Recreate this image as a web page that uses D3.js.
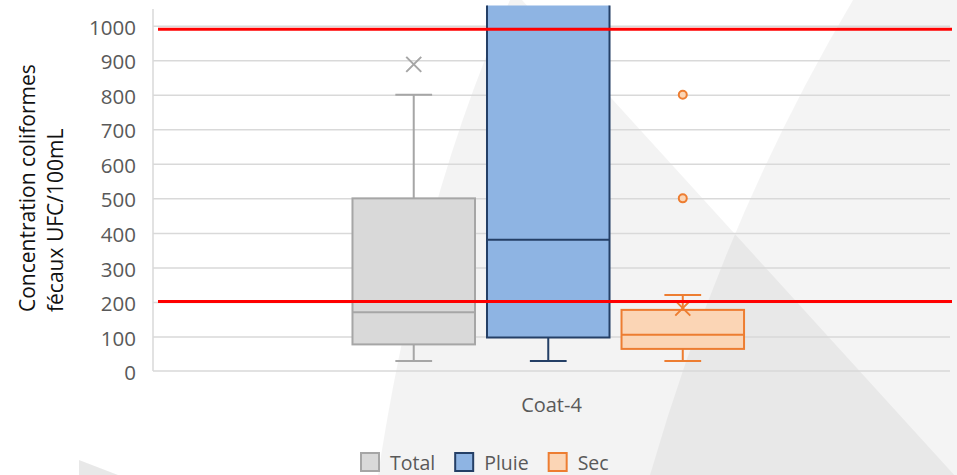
<!DOCTYPE html>
<html><head><meta charset="utf-8">
<script src="https://cdn.jsdelivr.net/npm/d3@7"></script>
<style>
html,body{margin:0;padding:0;background:#fff;}
svg{display:block;font-family:"Open Sans",sans-serif;}
</style></head>
<body>
<svg id="chart" width="957" height="475"></svg>
<script>
// ---- data ----
const categories = ["Coat-4"];
const series = ["Total", "Pluie", "Sec"];
const q1 = [77, 97, 64];
const median = [170, 380, 105];
const q3 = [500, 1100, 177];          // Pluie Q3 goes beyond the visible area
const whiskerLow = [29, 29, 29];
const whiskerHigh = [800, null, 220]; // Pluie upper whisker off-chart
const means = [888, null, 182];
const outliers = [[], [], [500, 800]];
const thresholds = [990, 201];
const yTicks = [0, 100, 200, 300, 400, 500, 600, 700, 800, 900, 1000];
const yTitle = ["Concentration coliformes", "fécaux UFC/100mL"];

const fills = ["#d9d9d9", "#8eb4e3", "#fbd5b5"];
const strokes = ["#a6a6a6", "#243f66", "#ed7d31"];

const W = 957, H = 475;
const plot = {left: 153, right: 950, top: 5, bottom: 371};
const svg = d3.select("#chart");

// ---- decorative background ----
const bg = svg.append("g");
bg.append("path").attr("d", "M853,0 L957,0 L957,475 L650,475 Q725,215 853,0 Z")
  .attr("fill", "#000").attr("fill-opacity", 0.045);
bg.append("path").attr("d", "M510,0 L522,0 L957,478 L957,475 L378,475 Q420,200 510,0 Z")
  .attr("fill", "#000").attr("fill-opacity", 0.048);
bg.append("path").attr("d", "M79,460 L118,475 L79,475 Z")
  .attr("fill", "#000").attr("fill-opacity", 0.09);

// ---- scales ----
const y = d3.scaleLinear().domain([0, 1060]).range([plot.bottom, plot.top]);
const x = d3.scaleBand().domain(categories).range([plot.left, plot.right]);
const xs = d3.scaleBand().domain(series).range([0, x.bandwidth()])
  .paddingInner(0.0892).paddingOuter(1.507).align(0.492);

// ---- gridlines ----
const grid = svg.append("g").attr("transform", `translate(${plot.left},0)`)
  .call(d3.axisLeft(y).tickValues(yTicks.filter(d => d > 0)).tickSize(-(plot.right - plot.left)).tickFormat(""));
grid.select(".domain").remove();
grid.selectAll("line").attr("stroke", "#d9d9d9").attr("stroke-width", 1.5);

// axis lines
svg.append("line").attr("x1", plot.left).attr("x2", plot.left).attr("y1", 9).attr("y2", y(0))
  .attr("stroke", "#d9d9d9").attr("stroke-width", 1.5);
svg.append("line").attr("x1", plot.left).attr("x2", plot.right).attr("y1", y(0)).attr("y2", y(0))
  .attr("stroke", "#d9d9d9").attr("stroke-width", 1.5);

// y tick labels
const yAxis = svg.append("g").attr("transform", `translate(${plot.left - 17},0)`)
  .call(d3.axisLeft(y).tickValues(yTicks).tickSize(0).tickPadding(0).tickFormat(d3.format("d")));
yAxis.select(".domain").remove();
yAxis.selectAll("text").attr("fill", "#595959").attr("font-size", 20.5)
  .attr("font-family", "Open Sans").attr("dy", "0.42em");

// y title
const title = svg.append("text").attr("transform", "translate(0,312) rotate(-90)")
  .attr("font-size", 21).attr("fill", "#111").attr("text-anchor", "start");
yTitle.forEach((t, i) => {
  title.append("tspan").attr("x", 0).attr("y", 35 + i * 28).text(t);
});

// x category label
svg.selectAll(".cat").data(categories).join("text")
  .attr("x", d => x(d) + x.bandwidth() / 2).attr("y", 412)
  .attr("text-anchor", "middle").attr("font-size", 20).attr("fill", "#595959").text(d => d);

// ---- boxes ----
const clip = svg.append("clipPath").attr("id", "pclip").append("rect")
  .attr("x", 0).attr("y", plot.top + 0.5).attr("width", W).attr("height", plot.bottom - plot.top + 20);

const gBoxes = svg.append("g").attr("clip-path", "url(#pclip)");
const cat = categories[0];
series.forEach((s, i) => {
  const bx = x(cat) + xs(s), bw = xs.bandwidth(), cx = bx + bw / 2, cap = bw * 0.3;
  const g = gBoxes.append("g").attr("stroke", strokes[i]).attr("stroke-width", 2);
  // whiskers
  g.append("line").attr("x1", cx).attr("x2", cx).attr("y1", y(q1[i])).attr("y2", y(whiskerLow[i]));
  g.append("line").attr("x1", cx - cap / 2).attr("x2", cx + cap / 2).attr("y1", y(whiskerLow[i])).attr("y2", y(whiskerLow[i]));
  if (whiskerHigh[i] != null) {
    g.append("line").attr("x1", cx).attr("x2", cx).attr("y1", y(q3[i])).attr("y2", y(whiskerHigh[i]));
    g.append("line").attr("x1", cx - cap / 2).attr("x2", cx + cap / 2).attr("y1", y(whiskerHigh[i])).attr("y2", y(whiskerHigh[i]));
  }
  // box
  g.append("rect").attr("x", bx).attr("width", bw)
    .attr("y", y(q3[i])).attr("height", y(q1[i]) - y(q3[i]))
    .attr("fill", fills[i]);
  g.append("line").attr("x1", bx).attr("x2", bx + bw).attr("y1", y(median[i])).attr("y2", y(median[i]));
  // mean
  if (means[i] != null) {
    const m = y(means[i]), r = 7.5;
    g.append("path").attr("d", `M${cx - r},${m - r}L${cx + r},${m + r}M${cx - r},${m + r}L${cx + r},${m - r}`)
      .attr("fill", "none").attr("stroke-width", 2);
  }
  // outliers
  g.selectAll(".o").data(outliers[i]).join("circle")
    .attr("cx", cx).attr("cy", d => y(d)).attr("r", 4).attr("fill", fills[i]).attr("stroke-width", 2);
});

// ---- threshold lines ----
svg.selectAll(".thr").data(thresholds).join("line")
  .attr("x1", plot.left + 5).attr("x2", plot.right + 2)
  .attr("y1", d => y(d)).attr("y2", d => y(d))
  .attr("stroke", "#ff0000").attr("stroke-width", 3);

// ---- legend ----
const leg = svg.append("g").attr("transform", "translate(360,452)");
let lx = 0;
series.forEach((s, i) => {
  leg.append("rect").attr("x", lx + 1).attr("y", 1).attr("width", 18).attr("height", 18)
    .attr("fill", fills[i]).attr("stroke", strokes[i]).attr("stroke-width", 2);
  const t = leg.append("text").attr("x", lx + 30).attr("y", 18).attr("font-size", 19.5)
    .attr("fill", "#595959").text(s);
  lx += 30 + t.node().getComputedTextLength() + 19;
});
</script>
</body></html>
